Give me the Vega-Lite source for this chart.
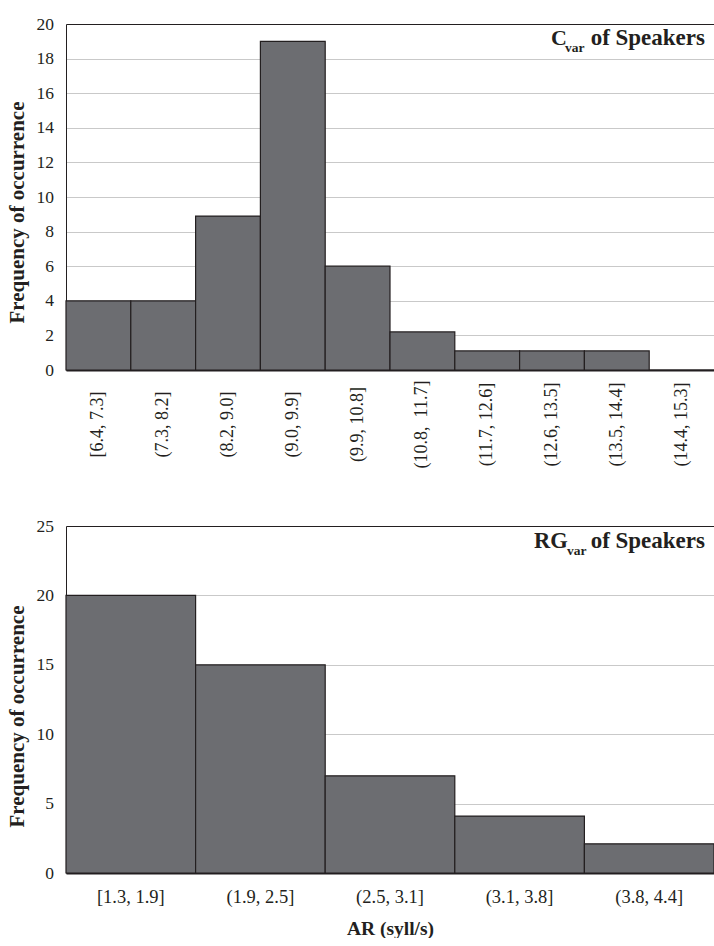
{
  "$schema": "https://vega.github.io/schema/vega-lite/v6.json",
  "padding": {"left": 6, "top": 15, "right": 0, "bottom": 0},
  "background": "white",
  "config": {
    "font": "Liberation Serif",
    "view": {"stroke": null},
    "axis": {"labelColor": "#231f20", "titleColor": "#231f20", "labelFont": "Liberation Serif", "titleFont": "Liberation Serif"}
  },
  "spacing": 156,
  "bounds": "flush",
  "vconcat": [
    {
      "width": 648,
      "height": 346,
      "data": {"values": [
        {"bin": "[6.4, 7.3]", "freq": 4},
        {"bin": "(7.3, 8.2]", "freq": 4},
        {"bin": "(8.2, 9.0]", "freq": 8.9},
        {"bin": "(9.0, 9.9]", "freq": 19},
        {"bin": "(9.9, 10.8]", "freq": 6},
        {"bin": "(10.8, \u00a011.7]", "freq": 2.2},
        {"bin": "(11.7, 12.6]", "freq": 1.1},
        {"bin": "(12.6, 13.5]", "freq": 1.1},
        {"bin": "(13.5, 14.4]", "freq": 1.1},
        {"bin": "(14.4, 15.3]", "freq": 0}
      ]},
      "layer": [
        {
          "mark": {"type": "bar", "fill": "#6c6d71", "stroke": "#231f20", "strokeWidth": 1.2},
          "encoding": {
            "x": {"field": "bin", "type": "nominal", "sort": null,
              "scale": {"paddingInner": 0, "paddingOuter": 0},
              "axis": {"title": null, "labelAngle": 270, "labelAlign": "center", "labelBaseline": "middle",
                "labelPadding": 54, "ticks": false, "tickSize": 0, "domainColor": "#231f20", "domainWidth": 2,
                "labelFontSize": 18, "grid": false, "labelOverlap": false}},
            "y": {"field": "freq", "type": "quantitative", "scale": {"domain": [0, 20], "nice": false},
              "axis": {"title": "Frequency of occurrence", "values": [0, 2, 4, 6, 8, 10, 12, 14, 16, 18, 20],
                "grid": true, "gridColor": {"condition": {"test": "datum.value === 20", "value": "#231f20"}, "value": "#c9c9c9"},
                "domainColor": "#231f20", "ticks": false, "tickSize": 0, "labelFontSize": 17.5, "labelPadding": 12.5, "labelOverlap": false,
                "titleFontSize": 21, "titleFontWeight": "bold", "titlePadding": 9, "titleY": 188}}
          }
        },
        {
          "data": {"values": [{}]},
          "mark": {"type": "text", "text": "C", "align": "left", "baseline": "alphabetic", "fontSize": 22, "fontWeight": "bold", "color": "#231f20", "dx": -163, "dy": 20.5},
          "encoding": {
            "x": {"datum": "(14.4, 15.3]", "type": "nominal", "bandPosition": 1},
            "y": {"datum": 20, "type": "quantitative",
              "axis": {"title": "Frequency of occurrence", "values": [0, 2, 4, 6, 8, 10, 12, 14, 16, 18, 20],
                "grid": true, "gridColor": {"condition": {"test": "datum.value === 20", "value": "#231f20"}, "value": "#c9c9c9"},
                "domainColor": "#231f20", "ticks": false, "tickSize": 0, "labelFontSize": 17.5, "labelPadding": 12.5, "labelOverlap": false,
                "titleFontSize": 21, "titleFontWeight": "bold", "titlePadding": 9, "titleY": 188}}
          }
        },
        {
          "data": {"values": [{}]},
          "mark": {"type": "text", "text": "var", "align": "left", "baseline": "alphabetic", "fontSize": 13.5, "fontWeight": "bold", "color": "#231f20", "dx": -149, "dy": 27.5},
          "encoding": {
            "x": {"datum": "(14.4, 15.3]", "type": "nominal", "bandPosition": 1},
            "y": {"datum": 20, "type": "quantitative",
              "axis": {"title": "Frequency of occurrence", "values": [0, 2, 4, 6, 8, 10, 12, 14, 16, 18, 20],
                "grid": true, "gridColor": {"condition": {"test": "datum.value === 20", "value": "#231f20"}, "value": "#c9c9c9"},
                "domainColor": "#231f20", "ticks": false, "tickSize": 0, "labelFontSize": 17.5, "labelPadding": 12.5, "labelOverlap": false,
                "titleFontSize": 21, "titleFontWeight": "bold", "titlePadding": 9, "titleY": 188}}
          }
        },
        {
          "data": {"values": [{}]},
          "mark": {"type": "text", "text": "of Speakers", "align": "right", "baseline": "alphabetic", "fontSize": 23, "fontWeight": "bold", "color": "#231f20", "dx": -9, "dy": 20.5},
          "encoding": {
            "x": {"datum": "(14.4, 15.3]", "type": "nominal", "bandPosition": 1},
            "y": {"datum": 20, "type": "quantitative",
              "axis": {"title": "Frequency of occurrence", "values": [0, 2, 4, 6, 8, 10, 12, 14, 16, 18, 20],
                "grid": true, "gridColor": {"condition": {"test": "datum.value === 20", "value": "#231f20"}, "value": "#c9c9c9"},
                "domainColor": "#231f20", "ticks": false, "tickSize": 0, "labelFontSize": 17.5, "labelPadding": 12.5, "labelOverlap": false,
                "titleFontSize": 21, "titleFontWeight": "bold", "titlePadding": 9, "titleY": 188}}
          }
        }
      ]
    },
    {
      "width": 648,
      "height": 347,
      "data": {"values": [
        {"bin": "[1.3, 1.9]", "freq": 20},
        {"bin": "(1.9, 2.5]", "freq": 15},
        {"bin": "(2.5, 3.1]", "freq": 7},
        {"bin": "(3.1, 3.8]", "freq": 4.1},
        {"bin": "(3.8, 4.4]", "freq": 2.1}
      ]},
      "layer": [
        {
          "mark": {"type": "bar", "fill": "#6c6d71", "stroke": "#231f20", "strokeWidth": 1.2},
          "encoding": {
            "x": {"field": "bin", "type": "nominal", "sort": null,
              "scale": {"paddingInner": 0, "paddingOuter": 0},
              "axis": {"title": "AR (syll/s)", "labelAngle": 0, "labelAlign": "center", "labelBaseline": "top",
                "labelPadding": 14, "ticks": false, "tickSize": 0, "domainColor": "#231f20", "domainWidth": 2,
                "labelFontSize": 18.5, "grid": false, "titleFontSize": 19.5, "titleFontWeight": "bold", "titlePadding": 14}},
            "y": {"field": "freq", "type": "quantitative", "scale": {"domain": [0, 25], "nice": false},
              "axis": {"title": "Frequency of occurrence", "values": [0, 5, 10, 15, 20, 25],
                "grid": true, "gridColor": {"condition": {"test": "datum.value === 25", "value": "#231f20"}, "value": "#c9c9c9"},
                "domainColor": "#231f20", "ticks": false, "tickSize": 0, "labelFontSize": 17.5, "labelPadding": 12.5, "labelOverlap": false,
                "titleFontSize": 21, "titleFontWeight": "bold", "titlePadding": 9, "titleY": 190}}
          }
        },
        {
          "data": {"values": [{}]},
          "mark": {"type": "text", "text": "RG", "align": "left", "baseline": "alphabetic", "fontSize": 22.5, "fontWeight": "bold", "color": "#231f20", "dx": -180, "dy": 22},
          "encoding": {
            "x": {"datum": "(3.8, 4.4]", "type": "nominal", "bandPosition": 1},
            "y": {"datum": 25, "type": "quantitative"}
          }
        },
        {
          "data": {"values": [{}]},
          "mark": {"type": "text", "text": "var", "align": "left", "baseline": "alphabetic", "fontSize": 13.5, "fontWeight": "bold", "color": "#231f20", "dx": -147, "dy": 29},
          "encoding": {
            "x": {"datum": "(3.8, 4.4]", "type": "nominal", "bandPosition": 1},
            "y": {"datum": 25, "type": "quantitative"}
          }
        },
        {
          "data": {"values": [{}]},
          "mark": {"type": "text", "text": "of Speakers", "align": "right", "baseline": "alphabetic", "fontSize": 23, "fontWeight": "bold", "color": "#231f20", "dx": -9, "dy": 22},
          "encoding": {
            "x": {"datum": "(3.8, 4.4]", "type": "nominal", "bandPosition": 1},
            "y": {"datum": 25, "type": "quantitative"}
          }
        }
      ]
    }
  ]
}
